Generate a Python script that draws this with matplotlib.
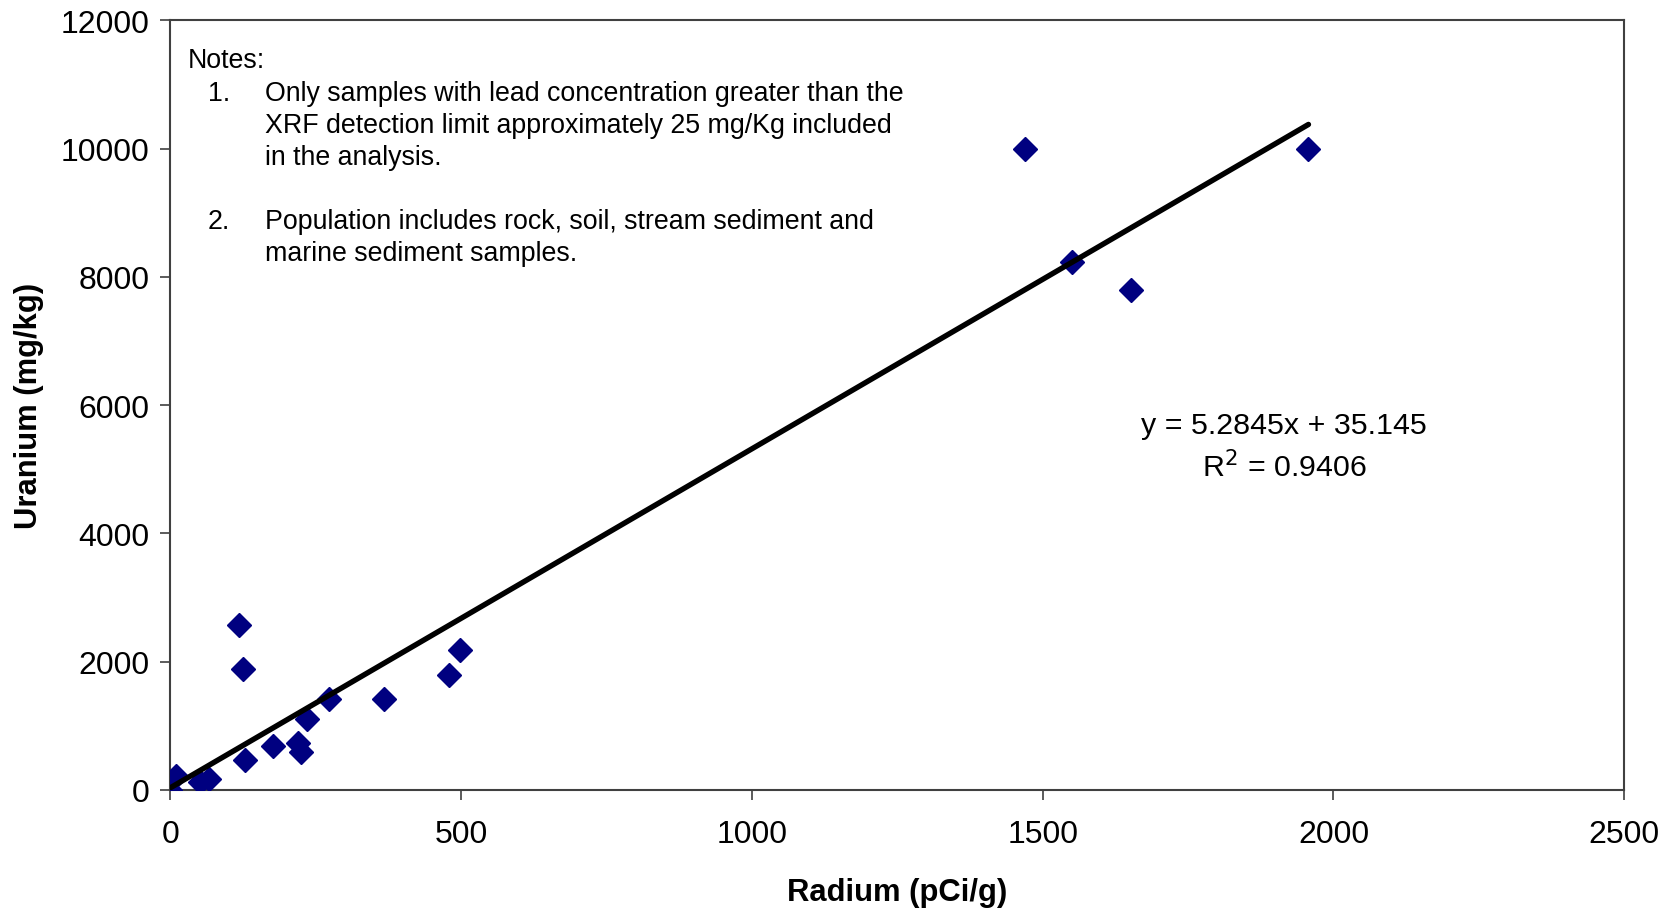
import matplotlib
matplotlib.use("Agg")
import matplotlib.pyplot as plt
import numpy as np

plt.rcParams['font.family'] = ['Liberation Sans', 'DejaVu Sans']

# Data (Radium pCi/g, Uranium mg/kg)
radium = [0, 10, 50, 66, 128, 177, 220, 225, 234, 273, 368, 479, 498, 118, 124,
          1470, 1551, 1652, 1957]
uranium = [0, 220, 130, 170, 470, 690, 740, 590, 1110, 1420, 1420, 1800, 2190, 2580, 1890,
           10000, 8230, 7800, 10000]
slope = 5.2845
intercept = 35.145
r2 = 0.9406

x_ticks = [0, 500, 1000, 1500, 2000, 2500]
y_ticks = [0, 2000, 4000, 6000, 8000, 10000, 12000]

fig = plt.figure(figsize=(16.71, 9.12), dpi=100)
ax = fig.add_axes([0.102, 0.1327, 0.870, 0.8439])

ax.plot(radium, uranium, linestyle='none', marker='D', markersize=12.5,
        color='#000080', zorder=3)
xl = np.array([min(radium), max(radium)])
ax.plot(xl, slope * xl + intercept, color='black', linewidth=3.9,
        solid_capstyle='round', zorder=4)

ax.set_xlim(0, 2500)
ax.set_ylim(0, 12000)
ax.set_xticks(x_ticks)
ax.set_yticks(y_ticks)
ax.tick_params(direction='out', length=7, width=1.2, labelsize=23,
               colors='#404040', labelcolor='black')
ax.tick_params(axis='y', pad=8)
ax.tick_params(axis='x', pad=14)
for s in ax.spines.values():
    s.set_color('#404040')
    s.set_linewidth(1.5)

ax.set_xlabel('Radium (pCi/g)', fontsize=22.3, fontweight='bold', labelpad=20)
ax.set_ylabel('Uranium (mg/kg)', fontsize=22.3, fontweight='bold', labelpad=12)

fs = 19.3
ax.text(0.0117, 0.9485, 'Notes:', transform=ax.transAxes, fontsize=fs, va='center')
ax.text(0.0257, 0.9056, '1.', transform=ax.transAxes, fontsize=fs, va='center')
ax.text(0.0652, 0.9056, 'Only samples with lead concentration greater than the',
        transform=ax.transAxes, fontsize=fs, va='center')
ax.text(0.0652, 0.864, 'XRF detection limit approximately 25 mg/Kg included',
        transform=ax.transAxes, fontsize=fs, va='center')
ax.text(0.0652, 0.8225, 'in the analysis.', transform=ax.transAxes, fontsize=fs, va='center')
ax.text(0.0257, 0.7394, '2.', transform=ax.transAxes, fontsize=fs, va='center')
ax.text(0.0652, 0.7394, 'Population includes rock, soil, stream sediment and',
        transform=ax.transAxes, fontsize=fs, va='center')
ax.text(0.0652, 0.6978, 'marine sediment samples.', transform=ax.transAxes,
        fontsize=fs, va='center')

ax.text(0.766, 0.4737, f'y = {slope}x + {intercept}', transform=ax.transAxes,
        fontsize=21.9, ha='center', va='center')
ax.text(0.766, 0.421, f'R$^2$ = {r2}', transform=ax.transAxes,
        fontsize=21.9, ha='center', va='center')

fig.savefig('out.png', dpi=100)
